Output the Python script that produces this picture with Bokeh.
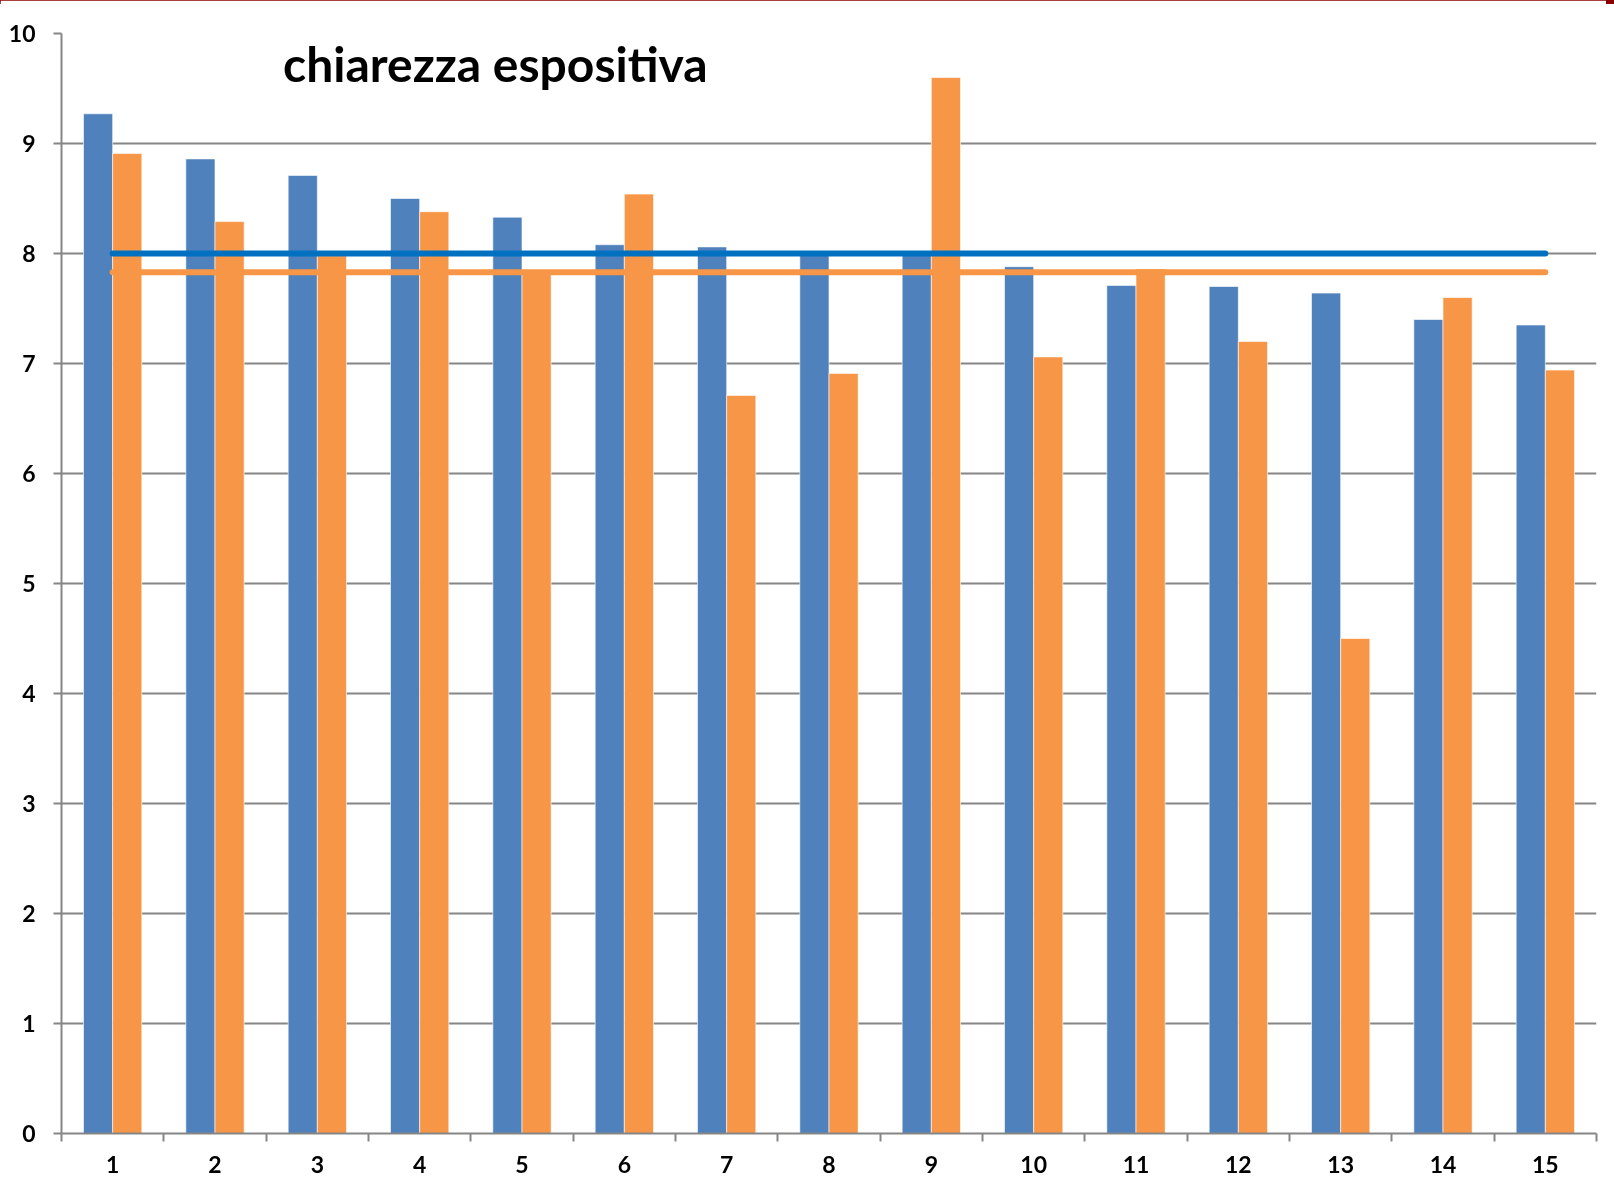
from bokeh.plotting import figure
from bokeh.models import FixedTicker, Label, Div, Range1d
from bokeh.layouts import column
from bokeh.embed import file_html
from bokeh.resources import INLINE

# ---- data ----
categories = list(range(1, 16))
serie_a = [9.27, 8.86, 8.71, 8.50, 8.33, 8.08, 8.06, 8.01, 8.02, 7.88, 7.71, 7.70, 7.64, 7.40, 7.35]
serie_b = [8.91, 8.29, 7.98, 8.38, 7.84, 8.54, 6.71, 6.91, 9.60, 7.06, 7.86, 7.20, 4.50, 7.60, 6.94]
media_a = 8.00
media_b = 7.83
y_ticks = list(range(0, 11))
title_text = "chiarezza espositiva"

BLUE = "#4F81BD"
ORANGE = "#F79646"
BLUE_LINE = "#0070C0"
GRID = "#868686"
FONT = "Lato"

bar_w = 0.285
half = bar_w / 2

p = figure(width=1606, height=1188, output_backend="svg", toolbar_location=None,
           x_range=Range1d(categories[0] - 0.5, categories[-1] + 0.5),
           y_range=Range1d(y_ticks[0], y_ticks[-1]),
           min_border_left=61, min_border_right=10, min_border_top=33, min_border_bottom=55)
p.outline_line_color = None
p.background_fill_color = "white"
p.border_fill_color = "white"

# grid
p.xgrid.grid_line_color = None
p.ygrid.grid_line_color = GRID
p.ygrid.grid_line_width = 2
p.ygrid.ticker = FixedTicker(ticks=y_ticks)

# bars
p.vbar(x=[c - half for c in categories], top=serie_a, width=bar_w, bottom=0,
       fill_color=BLUE, line_color="white", line_width=1, line_alpha=0.6)
p.vbar(x=[c + half for c in categories], top=serie_b, width=bar_w, bottom=0,
       fill_color=ORANGE, line_color="white", line_width=1, line_alpha=0.6)

# reference lines
p.line(x=[categories[0], categories[-1]], y=[media_a, media_a], line_color=BLUE_LINE,
       line_width=6, line_cap="round")
p.line(x=[categories[0], categories[-1]], y=[media_b, media_b], line_color=ORANGE,
       line_width=6, line_cap="round")

# y axis
ya = p.yaxis[0]
ya.ticker = FixedTicker(ticks=y_ticks)
ya.axis_line_color = GRID
ya.axis_line_width = 2
ya.major_tick_line_color = GRID
ya.major_tick_line_width = 2
ya.major_tick_out = 8
ya.major_tick_in = 0
ya.minor_tick_line_color = None
ya.major_label_text_font = FONT
ya.major_label_text_font_style = "bold"
ya.major_label_text_font_size = "23px"
ya.major_label_text_color = "black"
ya.major_label_standoff = 18

# x axis
xa = p.xaxis[0]
xa.ticker = FixedTicker(ticks=categories,
                        minor_ticks=[c - 0.5 for c in categories] + [categories[-1] + 0.5])
xa.axis_line_color = GRID
xa.axis_line_width = 2
xa.major_tick_line_color = None
xa.major_tick_out = 8
xa.major_tick_in = 0
xa.minor_tick_line_color = GRID
xa.minor_tick_line_width = 2
xa.minor_tick_out = 8
xa.minor_tick_in = 0
xa.major_label_text_font = FONT
xa.major_label_text_font_style = "bold"
xa.major_label_text_font_size = "23px"
xa.major_label_text_color = "black"
xa.major_label_standoff = 14

# title inside plot
p.add_layout(Label(x=4.74, y=9.73, text=title_text, text_align="center",
                   text_baseline="alphabetic", text_font=FONT, text_font_style="bold",
                   text_font_size="48px", text_color="black"))

top_bar = Div(text="", width=1614, height=4, margin=0,
              styles={"position": "fixed", "top": "0px", "left": "0px",
                      "width": "100%", "height": "4px", "background-color": "#8B0000"})

layout = column(top_bar, p, margin=0, spacing=0)

open("out.html", "w").write(file_html(layout, INLINE))
